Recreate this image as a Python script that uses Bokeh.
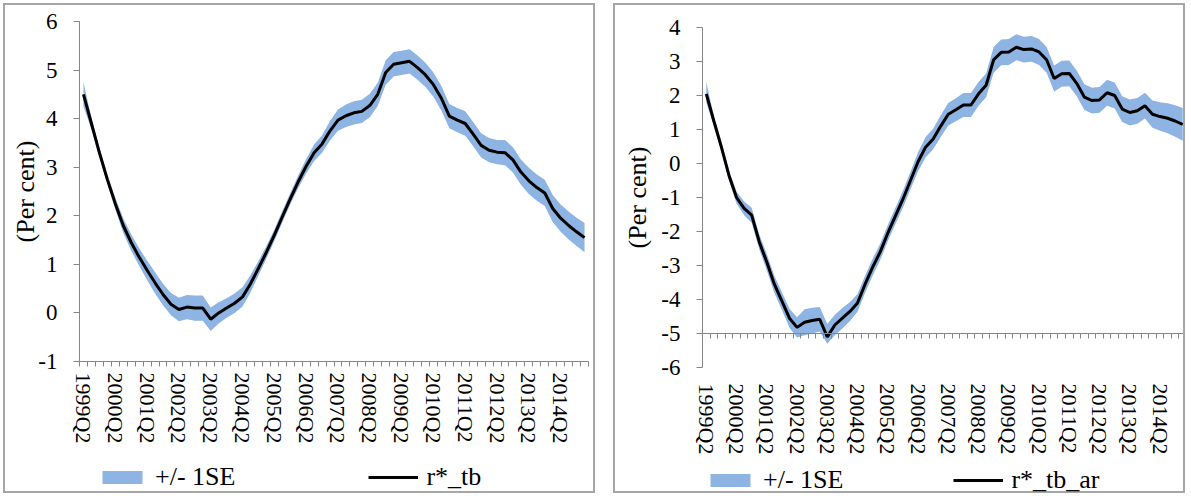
from bokeh.plotting import figure
from bokeh.models import FixedTicker, LinearAxis, Range1d, Legend, LegendItem
from bokeh.embed import file_html
from bokeh.resources import INLINE

# ---------------- data ----------------
quarters = []
for _k in range(64):
    _t = 1 + _k
    quarters.append(f"{1999 + _t // 4}Q{_t % 4 + 1}")   # 1999Q2 ... 2015Q1

tick_labels = ["1999Q2", "2000Q2", "2001Q2", "2002Q2", "2003Q2", "2004Q2", "2005Q2", "2006Q2",
               "2007Q2", "2008Q2", "2009Q2", "2010Q2", "2011Q2", "2012Q2", "2013Q2", "2014Q2"]

r_tb = [4.50, 3.90, 3.30, 2.75, 2.25, 1.80, 1.45, 1.15, 0.88, 0.62, 0.38, 0.18, 0.07, 0.12, 0.10, 0.10,
        -0.13, 0.00, 0.10, 0.20, 0.33, 0.60, 0.92, 1.25, 1.60, 1.98, 2.35, 2.70, 3.02, 3.30, 3.48, 3.75,
        3.97, 4.06, 4.12, 4.15, 4.27, 4.50, 4.95, 5.12, 5.15, 5.18, 5.05, 4.90, 4.70, 4.42, 4.05, 3.97,
        3.90, 3.68, 3.45, 3.35, 3.31, 3.30, 3.15, 2.90, 2.72, 2.58, 2.47, 2.15, 1.95, 1.80, 1.67, 1.55]
r_tb_upper = [4.75, 4.02, 3.40, 2.85, 2.37, 1.95, 1.62, 1.33, 1.08, 0.84, 0.60, 0.41, 0.31, 0.37, 0.36, 0.36,
              0.11, 0.22, 0.30, 0.40, 0.53, 0.78, 1.07, 1.38, 1.72, 2.10, 2.47, 2.83, 3.17, 3.47, 3.66, 3.95,
              4.19, 4.29, 4.36, 4.39, 4.51, 4.74, 5.20, 5.37, 5.40, 5.43, 5.30, 5.15, 4.95, 4.67, 4.30, 4.22,
              4.15, 3.93, 3.70, 3.60, 3.56, 3.56, 3.41, 3.16, 2.99, 2.85, 2.74, 2.43, 2.23, 2.09, 1.96, 1.85]
r_tb_lower = [4.25, 3.78, 3.20, 2.65, 2.13, 1.65, 1.28, 0.97, 0.68, 0.40, 0.16, -0.05, -0.17, -0.13, -0.16, -0.16,
              -0.37, -0.22, -0.10, 0.00, 0.13, 0.42, 0.77, 1.12, 1.48, 1.86, 2.23, 2.57, 2.87, 3.13, 3.30, 3.55,
              3.75, 3.83, 3.88, 3.91, 4.03, 4.26, 4.70, 4.87, 4.90, 4.93, 4.80, 4.65, 4.45, 4.17, 3.80, 3.72,
              3.65, 3.43, 3.20, 3.10, 3.06, 3.04, 2.89, 2.64, 2.45, 2.31, 2.20, 1.87, 1.67, 1.51, 1.38, 1.25]

r_tb_ar = [2.05, 1.25, 0.48, -0.35, -1.00, -1.32, -1.52, -2.30, -2.90, -3.55, -4.05, -4.55, -4.82, -4.67, -4.62, -4.58,
           -5.10, -4.75, -4.55, -4.35, -4.10, -3.55, -3.05, -2.60, -2.05, -1.55, -1.05, -0.50, 0.05, 0.48, 0.72, 1.10,
           1.45, 1.58, 1.72, 1.72, 2.05, 2.30, 3.05, 3.27, 3.28, 3.42, 3.35, 3.37, 3.28, 3.05, 2.50, 2.64,
           2.65, 2.35, 1.95, 1.85, 1.87, 2.08, 2.00, 1.60, 1.50, 1.55, 1.70, 1.45, 1.38, 1.33, 1.25, 1.15]
r_tb_ar_upper = [2.40, 1.40, 0.63, -0.20, -0.82, -1.12, -1.30, -2.08, -2.66, -3.30, -3.79, -4.27, -4.52, -4.29, -4.24, -4.22,
                 -4.72, -4.45, -4.25, -4.07, -3.84, -3.30, -2.80, -2.36, -1.81, -1.31, -0.80, -0.24, 0.33, 0.78, 1.02, 1.42,
                 1.78, 1.92, 2.07, 2.07, 2.40, 2.65, 3.43, 3.65, 3.66, 3.80, 3.73, 3.75, 3.66, 3.43, 2.88, 3.02,
                 3.03, 2.73, 2.33, 2.23, 2.25, 2.46, 2.38, 1.98, 1.88, 1.93, 2.08, 1.85, 1.80, 1.77, 1.71, 1.63]
r_tb_ar_lower = [1.80, 1.10, 0.33, -0.50, -1.18, -1.52, -1.74, -2.52, -3.14, -3.80, -4.31, -4.83, -5.12, -5.05, -5.00, -4.94,
                 -5.30, -5.05, -4.85, -4.63, -4.36, -3.80, -3.30, -2.84, -2.29, -1.79, -1.30, -0.76, -0.23, 0.18, 0.42, 0.78,
                 1.12, 1.24, 1.37, 1.37, 1.70, 1.95, 2.67, 2.89, 2.90, 3.04, 2.97, 2.99, 2.90, 2.67, 2.12, 2.26,
                 2.27, 1.97, 1.57, 1.47, 1.49, 1.70, 1.62, 1.22, 1.12, 1.17, 1.32, 1.05, 0.96, 0.89, 0.79, 0.67]

left_yticks = [-1, 0, 1, 2, 3, 4, 5, 6]
right_yticks = [-6, -5, -4, -3, -2, -1, 0, 1, 2, 3, 4]
band_label = "+/- 1SE"

# ---------------- style ----------------
FONT = "Liberation Serif"
AXIS_GRAY = "#868686"
BAND = "#8DB4E2"
TXT = "#000000"

x_idx = list(range(len(quarters)))
tick_pos = [quarters.index(t) for t in tick_labels]
boundaries = [i - 0.5 for i in range(len(quarters) + 1)]


def make_panel(left_px, width, height, borders, yrange, yticks, r, up, lo,
               axis_cross, ylabel_standoff):
    bl, br, bt, bb = borders
    p = figure(width=width, height=height, output_backend="svg", toolbar_location=None,
               x_range=Range1d(-0.5, len(quarters) - 0.5), y_range=Range1d(*yrange),
               min_border_left=bl, min_border_right=br, min_border_top=bt, min_border_bottom=bb,
               background_fill_color="white", border_fill_color="white")
    p.styles = {"position": "absolute", "left": f"{left_px}px", "top": "3px",
                "border": "2px solid #a6a6a6"}
    p.grid.visible = False
    p.outline_line_color = None

    p.varea(x=x_idx, y1=lo, y2=up, fill_color=BAND, fill_alpha=1.0)
    p.line(x=x_idx, y=r, line_color="black", line_width=3)

    # y axis
    ya = p.yaxis[0]
    ya.ticker = FixedTicker(ticks=yticks)
    ya.major_label_overrides = {t: str(t) for t in yticks}
    ya.axis_line_color = AXIS_GRAY
    ya.major_tick_line_color = AXIS_GRAY
    ya.major_tick_out = 6
    ya.major_tick_in = 0
    ya.minor_tick_line_color = None
    ya.major_label_text_font = FONT
    ya.major_label_text_font_size = "23px"
    ya.major_label_text_color = TXT
    ya.major_label_standoff = 16
    ya.axis_label = "(Per cent)"
    ya.axis_label_text_font = FONT
    ya.axis_label_text_font_size = "26px"
    ya.axis_label_text_font_style = "normal"
    ya.axis_label_text_color = TXT
    ya.axis_label_standoff = ylabel_standoff

    # x axis (labels)
    xa = p.xaxis[0]
    xa.ticker = FixedTicker(ticks=tick_pos, minor_ticks=boundaries)
    xa.major_label_overrides = {pos: lab for pos, lab in zip(tick_pos, tick_labels)}
    xa.major_label_orientation = "vertical"
    xa.major_label_text_font = FONT
    xa.major_label_text_font_size = "22px"
    xa.major_label_text_color = TXT
    xa.major_tick_in = 0
    xa.major_tick_out = 0
    if axis_cross is None:
        xa.axis_line_color = AXIS_GRAY
        xa.minor_tick_line_color = AXIS_GRAY
        xa.minor_tick_out = 5
        xa.minor_tick_in = 0
        xa.major_label_standoff = 6
    else:
        xa.axis_line_color = None
        xa.minor_tick_line_color = None
        xa.minor_tick_out = 0
        xa.minor_tick_in = 0
        xa.major_label_standoff = 16
        cross = LinearAxis(fixed_location=axis_cross,
                           ticker=FixedTicker(ticks=[], minor_ticks=boundaries),
                           axis_line_color=AXIS_GRAY, minor_tick_line_color=AXIS_GRAY,
                           minor_tick_out=5, minor_tick_in=0, major_tick_out=0, major_tick_in=0,
                           major_label_text_font_size="0px")
        p.add_layout(cross, "below")
    return p


def make_legend(left_px, top_px, width, r, up, lo, line_name, spacing):
    # legend-only canvas: the series are drawn outside its (empty) view, only the key shows
    lg = figure(width=width, height=40, output_backend="svg", toolbar_location=None,
                x_range=Range1d(-300, -299), y_range=Range1d(-300, -299),
                x_axis_location=None, y_axis_location=None, min_border=0,
                background_fill_alpha=0, border_fill_alpha=0)
    lg.styles = {"position": "absolute", "left": f"{left_px}px", "top": f"{top_px}px"}
    lg.grid.visible = False
    lg.outline_line_color = None
    b = lg.quad(left=x_idx, right=x_idx, bottom=lo, top=up,
                fill_color=BAND, fill_alpha=1.0, line_color=None)
    l = lg.line(x=x_idx, y=r, line_color="black", line_width=3)
    legend = Legend(items=[LegendItem(label=band_label, renderers=[b]),
                           LegendItem(label=line_name, renderers=[l])],
                    orientation="horizontal", location="left", padding=0, margin=0,
                    border_line_color=None, background_fill_alpha=0,
                    glyph_width=50, glyph_height=16, label_standoff=8, spacing=spacing,
                    label_text_font=FONT, label_text_font_size="26px", label_text_color=TXT)
    lg.add_layout(legend)
    return lg


left = make_panel(3, 592, 490, (74, 9, 16, 134), (-1, 6), left_yticks,
                  r_tb, r_tb_upper, r_tb_lower, None, -5)
right = make_panel(613, 572, 490, (87, 1, 22, 128), (-6, 4), right_yticks,
                   r_tb_ar, r_tb_ar_upper, r_tb_ar_lower, -5, 6)
left_leg = make_legend(97, 457, 440, r_tb, r_tb_upper, r_tb_lower, "r*_tb", 133)
right_leg = make_legend(705, 460, 470, r_tb_ar, r_tb_ar_upper, r_tb_ar_lower, "r*_tb_ar", 110)

open("out.html", "w").write(file_html([left, right, left_leg, right_leg], INLINE))
